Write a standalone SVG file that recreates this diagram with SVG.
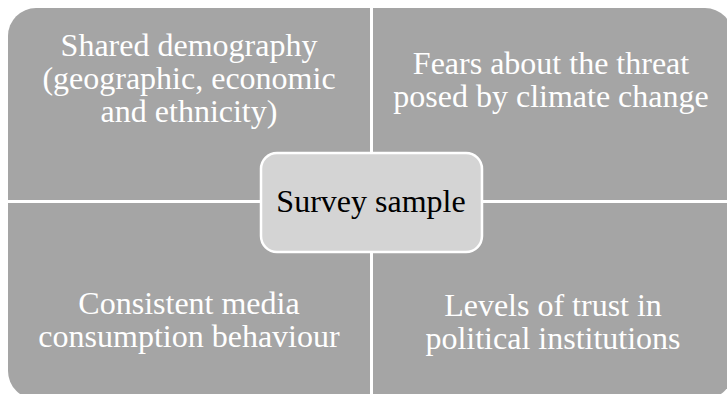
<svg xmlns="http://www.w3.org/2000/svg" width="727" height="394" viewBox="0 0 727 394">
  <style>
    .quad { fill: #a5a5a5; }
    .qtext { fill: #ffffff; font-family: "Liberation Serif", "Times New Roman", serif; font-size: 32px; text-anchor: middle; }
    .hub { fill: #d4d4d4; stroke: #ffffff; stroke-width: 2.5; }
    .htext { fill: #000000; font-family: "Liberation Serif", "Times New Roman", serif; font-size: 32px; text-anchor: middle; }
  </style>
  <rect width="727" height="394" fill="#ffffff"/>

  <!-- four quadrants, each rounded only on its outer corner -->
  <g id="quad-demography">
    <path class="quad" d="M8,36 A28,28 0 0 1 36,8 L370,8 L370,200 L8,200 Z"/>
    <text class="qtext" x="189" y="56">Shared demography</text>
    <text class="qtext" x="189" y="89">(geographic, economic</text>
    <text class="qtext" x="189" y="122">and ethnicity)</text>
  </g>
  <g id="quad-climate">
    <path class="quad" d="M373,8 L705,8 A28,28 0 0 1 733,36 L733,200 L373,200 Z"/>
    <text class="qtext" x="551" y="74">Fears about the threat</text>
    <text class="qtext" x="551" y="107">posed by climate change</text>
  </g>
  <g id="quad-media">
    <path class="quad" d="M8,203 L370,203 L370,399 L36,399 A28,28 0 0 1 8,371 Z"/>
    <text class="qtext" x="189" y="314">Consistent media</text>
    <text class="qtext" x="189" y="347">consumption behaviour</text>
  </g>
  <g id="quad-trust">
    <path class="quad" d="M373,203 L733,203 L733,371 A28,28 0 0 1 705,399 L373,399 Z"/>
    <text class="qtext" x="553" y="316">Levels of trust in</text>
    <text class="qtext" x="553" y="349">political institutions</text>
  </g>

  <!-- central hub -->
  <g id="hub-survey">
    <rect class="hub" x="261" y="153" width="221" height="99" rx="16" ry="16"/>
    <text class="htext" x="371" y="212">Survey sample</text>
  </g>
</svg>
